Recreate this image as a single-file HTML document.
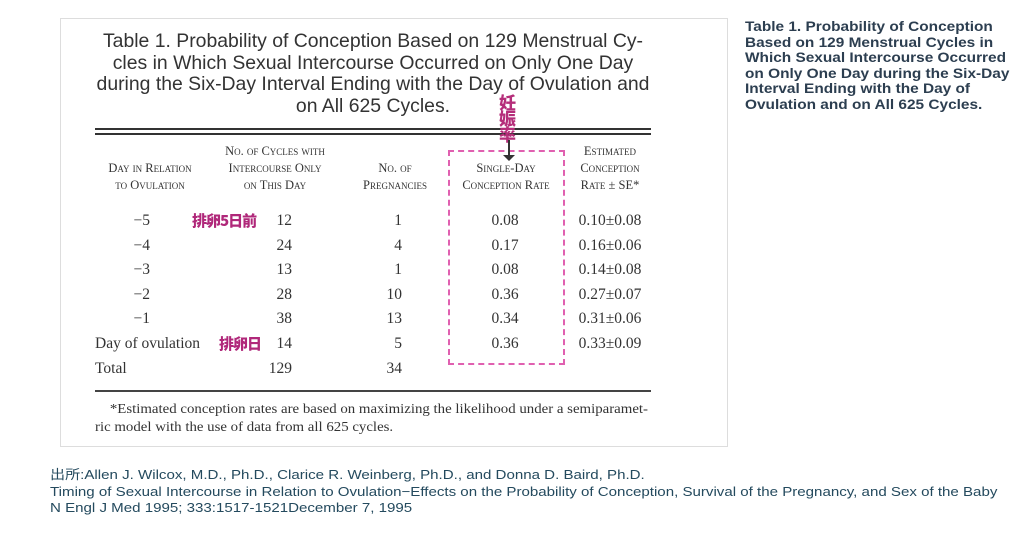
<!DOCTYPE html>
<html><head><meta charset="utf-8"><style>
body{margin:0;width:1024px;height:547px;background:#fff;position:relative;overflow:hidden;font-family:"Liberation Serif",serif;color:#222}
.a{position:absolute;white-space:nowrap}
.t{font-family:"Liberation Sans",sans-serif;font-size:19.4px;color:#333;text-align:center;width:600px;left:73px;line-height:21.5px}
.h{font-size:12.5px;font-variant:small-caps;text-align:center;line-height:17px;color:#333}
.r{font-size:15.5px;line-height:24.6px;color:#333}
.jp{font-family:"Noto Sans CJK JP",sans-serif;font-weight:900;color:#b0287a;font-size:15px;letter-spacing:-1px;line-height:20px}
.side{font-family:"Liberation Sans",sans-serif;font-weight:bold;font-size:14px;line-height:15.5px;color:#2c3e50;left:745px;top:19px;transform:scaleX(1.1);transform-origin:left}
.cite{font-family:"Liberation Sans","Noto Sans CJK JP",sans-serif;font-size:13px;color:#244a5e;left:50px;line-height:16.5px;transform:scaleX(1.16);transform-origin:left}
</style></head><body>
<div class="a" style="left:60px;top:18px;width:666px;height:427px;border:1px solid #ddd"></div>
<div class="a t" style="top:31px">Table 1. Probability of Conception Based on 129 Menstrual Cy-<br>cles in Which Sexual Intercourse Occurred on Only One Day<br>during the Six-Day Interval Ending with the Day of Ovulation and<br>on All 625 Cycles.</div>
<div class="a" style="left:95px;top:128px;width:556px;border-top:2px solid #333"></div>
<div class="a" style="left:95px;top:133px;width:556px;border-top:2px solid #333"></div>
<div class="a h" style="left:85px;top:160px;width:130px">Day in Relation<br>to Ovulation</div>
<div class="a h" style="left:195px;top:143px;width:160px">No. of Cycles with<br>Intercourse Only<br>on This Day</div>
<div class="a h" style="left:345px;top:160px;width:100px">No. of<br>Pregnancies</div>
<div class="a h" style="left:440px;top:160px;width:132px">Single-Day<br>Conception Rate</div>
<div class="a h" style="left:560px;top:143px;width:100px">Estimated<br>Conception<br>Rate ± SE*</div>
<div class="a" style="left:448px;top:150px;width:113px;height:211px;border:2px dashed #e060b0"></div>
<div class="a jp" style="left:499px;top:94px;font-size:17px;line-height:16px;width:20px;letter-spacing:0;color:#b52e7a">妊<br>娠<br>率</div>
<div class="a" style="left:508px;top:140px;height:16px;border-left:2px solid #333"></div>
<div class="a" style="left:503px;top:155px;border-left:6px solid transparent;border-right:6px solid transparent;border-top:6px solid #333"></div>
<div class="a r" style="left:95px;top:209px;width:55px;text-align:right">−5<br>−4<br>−3<br>−2<br>−1</div>
<div class="a r" style="left:95px;top:332px">Day of ovulation<br>Total</div>
<div class="a jp" style="left:192px;top:211px">排卵5日前</div>
<div class="a jp" style="left:219px;top:334px">排卵日</div>
<div class="a r" style="left:250px;top:209px;width:42px;text-align:right">12<br>24<br>13<br>28<br>38<br>14<br>129</div>
<div class="a r" style="left:360px;top:209px;width:42px;text-align:right">1<br>4<br>1<br>10<br>13<br>5<br>34</div>
<div class="a r" style="left:470px;top:209px;width:70px;text-align:center">0.08<br>0.17<br>0.08<br>0.36<br>0.34<br>0.36</div>
<div class="a r" style="left:560px;top:209px;width:100px;text-align:center">0.10±0.08<br>0.16±0.06<br>0.14±0.08<br>0.27±0.07<br>0.31±0.06<br>0.33±0.09</div>
<div class="a" style="left:95px;top:390px;width:556px;border-top:2px solid #444"></div>
<div class="a" style="left:95px;top:400px;font-size:13.5px;line-height:18px;color:#333;transform:scaleX(1.1);transform-origin:left">&nbsp;&nbsp;&nbsp;&nbsp;*Estimated conception rates are based on maximizing the likelihood under a semiparamet-<br>ric model with the use of data from all 625 cycles.</div>
<div class="a side">Table 1. Probability of Conception<br>Based on 129 Menstrual Cycles in<br>Which Sexual Intercourse Occurred<br>on Only One Day during the Six-Day<br>Interval Ending with the Day of<br>Ovulation and on All 625 Cycles.</div>
<div class="a cite" style="top:467px">出所:Allen J. Wilcox, M.D., Ph.D., Clarice R. Weinberg, Ph.D., and Donna D. Baird, Ph.D.<br>Timing of Sexual Intercourse in Relation to Ovulation−Effects on the Probability of Conception, Survival of the Pregnancy, and Sex of the Baby<br>N Engl J Med 1995; 333:1517-1521December 7, 1995</div>
</body></html>
